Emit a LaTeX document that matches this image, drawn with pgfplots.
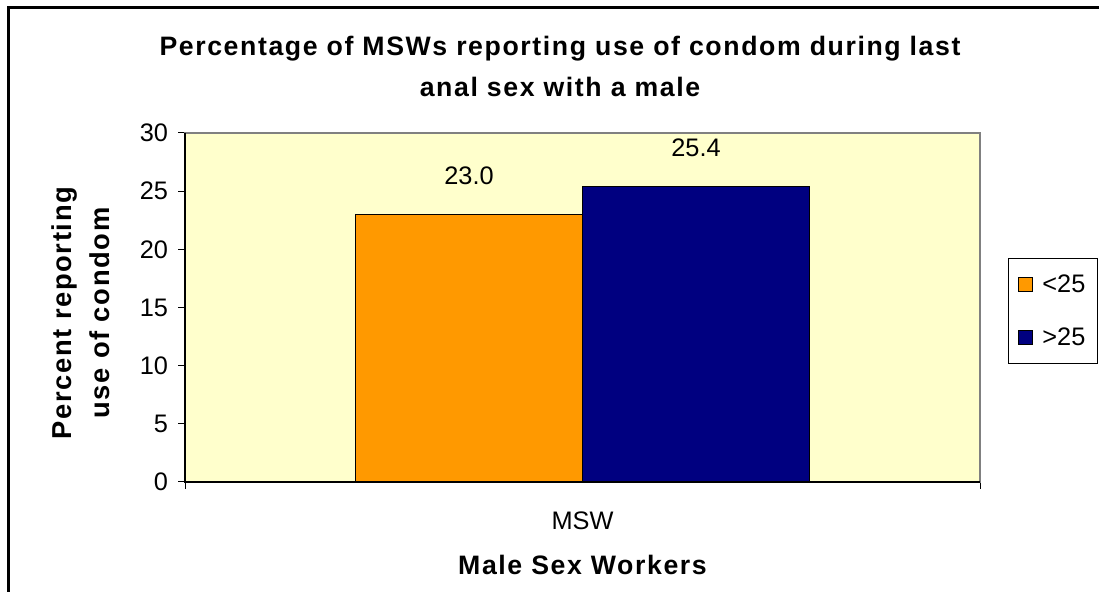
\documentclass[border=0pt]{standalone}
\usepackage{fontspec}
\setmainfont{Liberation Sans}
\newfontfamily\spacedfont[LetterSpace=6]{Liberation Sans}
\usepackage{pgfplots}
\pgfplotsset{compat=1.18}
\definecolor{barorange}{HTML}{FF9900}
\definecolor{barnavy}{HTML}{000080}
\definecolor{plotbg}{HTML}{FFFFCC}
\definecolor{bordergray}{HTML}{808080}
\begin{document}
\begin{tikzpicture}
\useasboundingbox (0pt,0pt) rectangle (824.25pt,444pt);
\fill[white] (0pt,0pt) rectangle (824.25pt,444pt);
\draw[line width=2.25pt] (6.5pt,-10pt) -- (6.5pt,438.2pt) -- (840pt,438.2pt);
\begin{axis}[
  at={(138.75pt,82.5pt)}, anchor=south west,
  scale only axis, width=596.25pt, height=261.75pt,
  xmin=-0.5, xmax=0.5, ymin=0, ymax=30,
  ytick={0,5,...,30},
  xtick={-0.5,0.5}, xticklabels={,},
  extra x ticks={0}, extra x tick labels={MSW},
  extra x tick style={major tick length=0pt, xticklabel style={anchor=base, yshift=-36pt}},
  xtick pos=bottom, ytick pos=left,
  tick align=outside, major tick length=5.25pt,
  tick style={black, line width=0.75pt},
  axis line style={bordergray, line width=1.5pt},
  axis background/.style={fill=plotbg},
  /pgf/number format/assume math mode=true,
  ticklabel style={font=\fontsize{19}{22}\selectfont},
  yticklabel style={xshift=-4pt},
  ybar=0pt, bar width=0.2855,
  title={Percentage of MSWs reporting use of condom during last\\anal sex with a male},
  title style={at={(axis description cs:0.4717,1.1676)}, anchor=center, align=center, font=\spacedfont\bfseries\fontsize{20}{30.75}\selectfont},
  ylabel={Percent reporting\\use of condom},
  ylabel style={at={(axis description cs:-0.1308,0.4842)}, anchor=center, align=center, font=\spacedfont\bfseries\fontsize{20.5}{28.5}\selectfont},
  xlabel={Male Sex Workers},
  xlabel style={at={(axis description cs:0.5,-0.238)}, anchor=center, font=\spacedfont\bfseries\fontsize{20}{22}\selectfont},
  nodes near coords,
  nodes near coords style={font=\fontsize{19}{22}\selectfont, anchor=south, inner sep=0pt, yshift=22pt, /pgf/number format/.cd, fixed, fixed zerofill, precision=1},
  legend style={at={(axis description cs:1.0352,0.6418)}, anchor=north west, draw=black, line width=0.75pt, fill=white, font=\fontsize{19}{22}\selectfont, row sep=21pt, inner xsep=7pt, inner ysep=10pt},
  legend cell align=left,
  legend image code/.code={\draw[#1, line width=0.9pt, draw=black] (0pt,-5.25pt) rectangle (10.5pt,5.25pt); \path[draw=none, fill=none] (0pt,0pt) (16pt,0pt);},
  after end axis/.code={
    \draw[black, line width=1.1pt] (axis description cs:0,1) -- (axis description cs:0,0) -- (axis description cs:1,0);
  },
]
\addplot[fill=barorange, draw=black, line width=1.1pt, bar shift=-0.14275] coordinates {(0,23.0)};
\addlegendentry{<25}
\addplot[fill=barnavy, draw=black, line width=1.1pt, bar shift=0.14275] coordinates {(0,25.4)};
\addlegendentry{>25}
\end{axis}
\end{tikzpicture}
\end{document}
